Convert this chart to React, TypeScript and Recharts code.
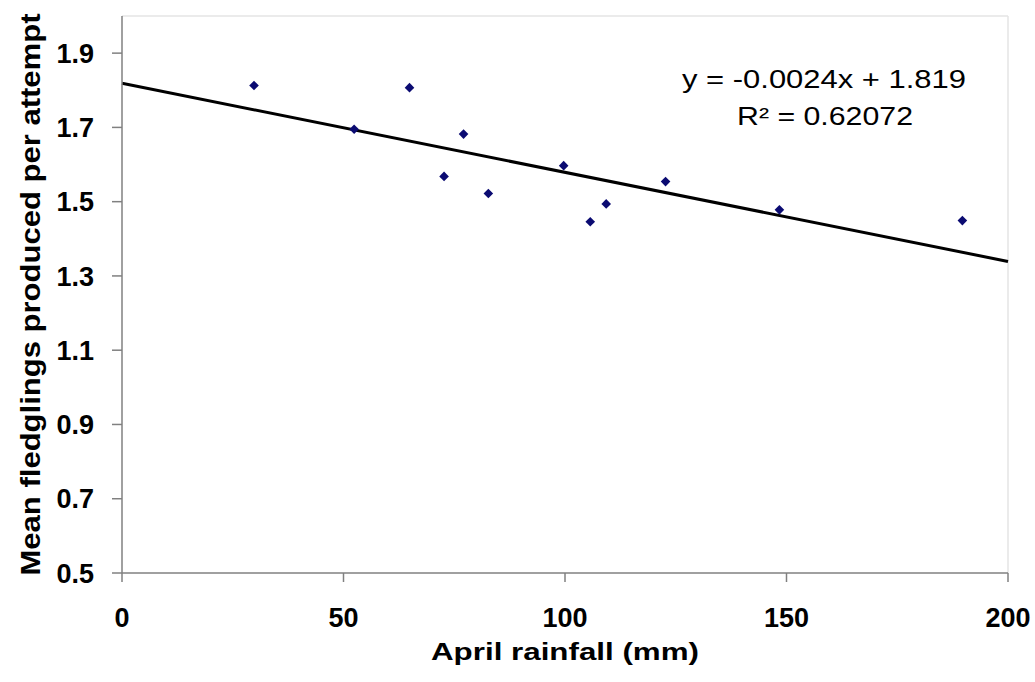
import React from 'react';
import {
  ScatterChart,
  Scatter,
  XAxis,
  YAxis,
  ReferenceLine,
  Customized,
} from 'recharts';

// April rainfall (mm) vs mean fledglings per attempt
const rainfall = [29.8, 52.4, 64.9, 77.1, 72.7, 82.7, 99.7, 105.7, 109.3, 122.7, 148.4, 189.7];
const fledglings = [1.813, 1.695, 1.807, 1.682, 1.568, 1.522, 1.597, 1.446, 1.494, 1.554, 1.478, 1.449];

const xTicks = [0, 50, 100, 150, 200];
const yTicks = [0.5, 0.7, 0.9, 1.1, 1.3, 1.5, 1.7, 1.9];

// trendline from the fitted equation shown on the chart
const slope = -0.0024;
const intercept = 1.819;
const trendX = [0, 200];
const equationText = 'y = -0.0024x + 1.819';
const r2Text = 'R² = 0.62072';

const points = rainfall.map((x, i) => ({ x, y: fledglings[i] }));
const trend = trendX.map((x) => ({ x, y: intercept + slope * x }));

const FONT = 'Arial, "Liberation Sans", sans-serif';

const Diamond = (props: any) => {
  const { cx, cy } = props;
  const r = 4.8;
  return (
    <polygon
      points={`${cx},${cy - r} ${cx + r},${cy} ${cx},${cy + r} ${cx - r},${cy}`}
      fill="#0b0b72"
    />
  );
};

const YLabel = (props: any) => {
  const { viewBox } = props;
  const cx = viewBox.x + 30;
  const cy = viewBox.y + viewBox.height / 2;
  return (
    <text
      x={cx}
      y={cy}
      transform={`rotate(-90, ${cx}, ${cy})`}
      textAnchor="middle"
      dominantBaseline="central"
      fontFamily={FONT}
      fontWeight="bold"
      fontSize={28}
      textLength={562}
      lengthAdjust="spacingAndGlyphs"
      fill="#000"
    >
      Mean fledglings produced per attempt
    </text>
  );
};

const XLabel = (props: any) => {
  const { viewBox } = props;
  const cx = viewBox.x + viewBox.width / 2;
  const cy = viewBox.y + 78;
  return (
    <text
      x={cx}
      y={cy}
      textAnchor="middle"
      dominantBaseline="central"
      fontFamily={FONT}
      fontWeight="bold"
      fontSize={24}
      textLength={268}
      lengthAdjust="spacingAndGlyphs"
      fill="#000"
    >
      April rainfall (mm)
    </text>
  );
};

const Equation = () => (
  <g fontFamily={FONT} fontSize={26} fill="#000">
    <text x={824} y={79} textAnchor="middle" dominantBaseline="central" textLength={284} lengthAdjust="spacingAndGlyphs">
      {equationText}
    </text>
    <text x={825} y={116} textAnchor="middle" dominantBaseline="central" textLength={176} lengthAdjust="spacingAndGlyphs">
      {r2Text}
    </text>
  </g>
);

export default function App() {
  return (
    <div style={{ position: 'absolute', left: 0, top: 0, width: 1035, height: 682, background: '#fff' }}>
      <ScatterChart
        width={1035}
        height={682}
        margin={{ top: 16, right: 27, bottom: 0, left: 0 }}
      >
        <ReferenceLine y={2.0} stroke="#e4e4e4" strokeWidth={1.5} />
        <ReferenceLine x={200} stroke="#e4e4e4" strokeWidth={1.5} />
        <XAxis
          type="number"
          dataKey="x"
          domain={[0, 200]}
          ticks={xTicks}
          allowDataOverflow
          height={109}
          stroke="#808080"
          strokeWidth={1.5}
          tickSize={9}
          tickMargin={26}
          tick={{ fontFamily: FONT, fontSize: 27, fontWeight: 'bold', fill: '#000' }}
          label={<XLabel />}
        />
        <YAxis
          type="number"
          dataKey="y"
          domain={[0.5, 2.0]}
          ticks={yTicks}
          allowDataOverflow
          width={122}
          stroke="#808080"
          strokeWidth={1.5}
          tickSize={10}
          tickMargin={18}
          tickFormatter={(v: number) => v.toFixed(1)}
          tick={{ fontFamily: FONT, fontSize: 27, fontWeight: 'bold', fill: '#000' }}
          label={<YLabel />}
        />
        <ReferenceLine
          segment={[trend[0], trend[1]]}
          stroke="#000"
          strokeWidth={3}
          ifOverflow="visible"
        />
        <Scatter data={points} shape={<Diamond />} isAnimationActive={false} />
        <Customized component={<Equation />} />
      </ScatterChart>
    </div>
  );
}
